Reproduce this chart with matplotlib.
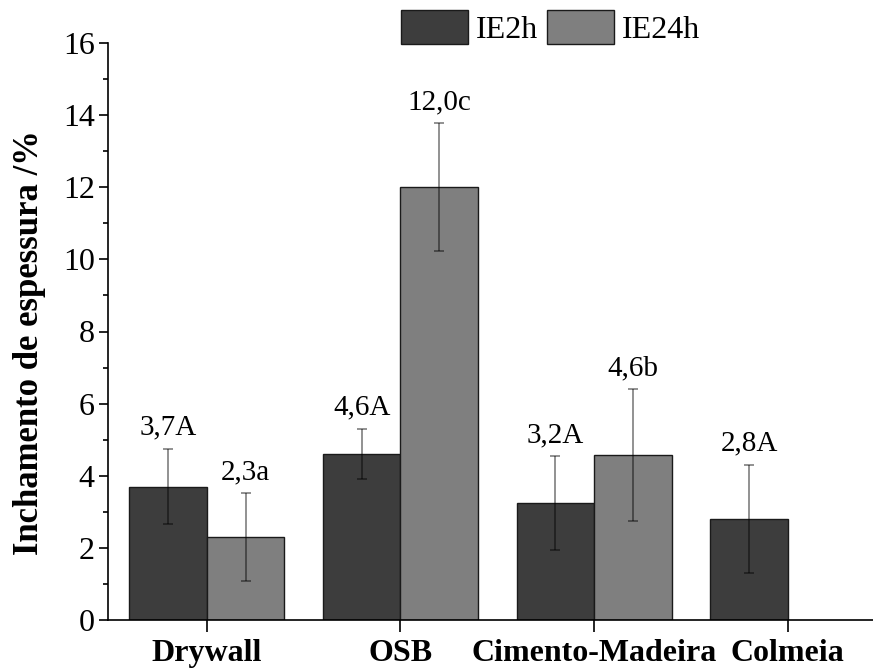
import matplotlib
matplotlib.use("Agg")
import matplotlib.pyplot as plt
import numpy as np
from matplotlib.ticker import MultipleLocator

categories = ["Drywall", "OSB", "Cimento-Madeira", "Colmeia"]
series_names = ["IE2h", "IE24h"]
ie2h = [3.70, 4.61, 3.24, 2.81]
ie2h_err = [1.05, 0.70, 1.30, 1.50]
ie2h_labels = ["3,7A", "4,6A", "3,2A", "2,8A"]
ie24h = [2.30, 12.0, 4.57, np.nan]
ie24h_err = [1.21, 1.77, 1.83, np.nan]
ie24h_labels = ["2,3a", "12,0c", "4,6b", ""]
yticks = [0, 2, 4, 6, 8, 10, 12, 14, 16]

plt.rcParams['font.family'] = ['Liberation Serif', 'DejaVu Serif']

fig = plt.figure(figsize=(8.73, 6.69), dpi=100)
ax = fig.add_axes([108/873, 1-620/669, 1-108/873, (620-43)/669])

x = np.arange(len(categories))
w = 0.4
dark = '#3d3d3d'
light = '#7f7f7f'
ecol = (0, 0, 0, 0.5)

b1 = ax.bar(x - w/2, ie2h, w, color=dark, edgecolor='#1a1a1a', linewidth=1.0, label=series_names[0])
b2 = ax.bar(x + w/2, ie24h, w, color=light, edgecolor='#1a1a1a', linewidth=1.0, label=series_names[1])
ax.errorbar(x - w/2, ie2h, yerr=ie2h_err, fmt='none', ecolor=ecol, elinewidth=1.2, capsize=3.5, capthick=1.2)
ax.errorbar(x + w/2, ie24h, yerr=ie24h_err, fmt='none', ecolor=ecol, elinewidth=1.2, capsize=3.5, capthick=1.2)

for xi, v, e, t in zip(x - w/2, ie2h, ie2h_err, ie2h_labels):
    if t:
        ax.annotate(t, (xi, v + e), xytext=(0, 15), textcoords='offset points',
                    ha='center', va='center', fontsize=21)
for xi, v, e, t in zip(x + w/2, ie24h, ie24h_err, ie24h_labels):
    if t:
        ax.annotate(t, (xi, v + e), xytext=(0, 15), textcoords='offset points',
                    ha='center', va='center', fontsize=21)

ax.set_xlim(-0.51, 3.44)
ax.set_ylim(0, 16)
ax.set_yticks(yticks)
ax.yaxis.set_minor_locator(MultipleLocator(1))
ax.set_xticks(x)
ax.set_xticklabels(categories, fontsize=23, fontweight='bold')
ax.tick_params(axis='y', which='major', direction='out', length=6.5, width=1.2, labelsize=23, pad=3)
ax.tick_params(axis='y', which='minor', direction='out', length=3.5, width=1.2)
ax.tick_params(axis='x', which='major', direction='out', length=8.5, width=1.2, pad=5)
ax.spines['top'].set_visible(False)
ax.spines['right'].set_visible(False)
ax.spines['left'].set_linewidth(1.2)
ax.spines['bottom'].set_linewidth(1.2)
ax.set_ylabel("Inchamento de espessura /%", fontsize=25, fontweight='bold')
ax.yaxis.set_label_coords(-0.081, 0.48)

fig.legend(handles=[b1, b2], loc='upper left', bbox_to_anchor=(398/873, 1-7/669), ncol=2,
           frameon=False, fontsize=23, handlelength=2.1, handleheight=1.25,
           handletextpad=0.25, columnspacing=0.25, borderaxespad=0, borderpad=0.1)

fig.savefig("out.png", dpi=100)
